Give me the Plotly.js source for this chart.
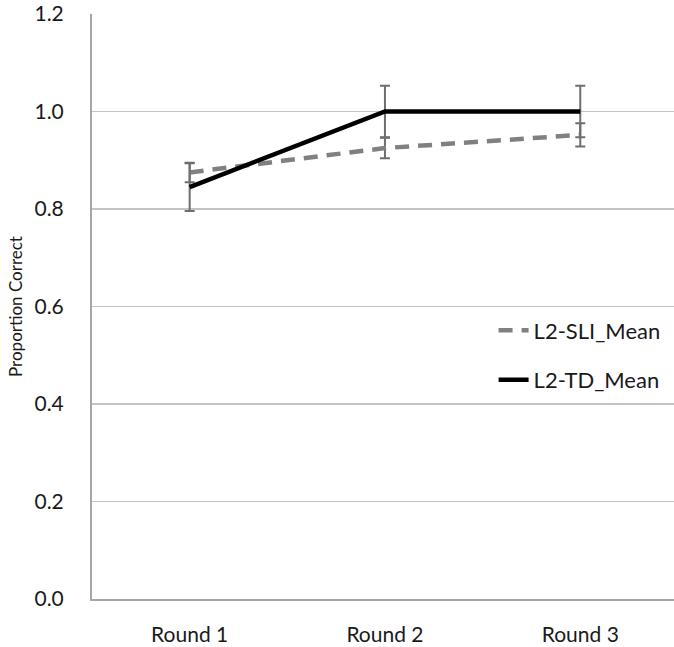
<!DOCTYPE html>
<html>
<head>
<meta charset="utf-8">
<script src="https://cdn.plot.ly/plotly-3.0.1.min.js"></script>
<style>html,body{margin:0;padding:0;background:#fff;}#chart{width:674px;height:647px;}</style>
</head>
<body>
<div id="chart"></div>
<script>
const categories = ["Round 1", "Round 2", "Round 3"];
const sliMean = [0.875, 0.925, 0.952];
const sliErr = [0.02, 0.021, 0.024];
const tdMean = [0.845, 1.0, 1.0];
const tdErr = [0.049, 0.053, 0.053];
const yTicks = [0, 0.2, 0.4, 0.6, 0.8, 1.0, 1.2];
const yTickText = ["0.0", "0.2", "0.4", "0.6", "0.8", "1.0", "1.2"];

const FONT = "Lato, 'Open Sans', sans-serif";

const traces = [
  {
    x: categories, y: sliMean, name: "L2-SLI_Mean", type: "scatter", mode: "lines",
    line: {color: "#808080", width: 4.5, dash: "14px,9px"},
    error_y: {type: "data", array: sliErr, visible: true, color: "#6e6e6e", thickness: 2, width: 5},
    legendgroup: "a"
  },
  {
    x: categories, y: tdMean, name: "L2-TD_Mean", type: "scatter", mode: "lines",
    line: {color: "#000000", width: 4.5},
    error_y: {type: "data", array: tdErr, visible: true, color: "#6e6e6e", thickness: 2, width: 5},
    legendgroup: "b"
  }
];

const layout = {
  width: 674, height: 647,
  margin: {l: 92, r: 0, t: 14, b: 48},
  paper_bgcolor: "#fff", plot_bgcolor: "#fff",
  font: {family: FONT, color: "#1a1a1a", size: 21},
  showlegend: true,
  legend: {x: 0.69, y: 0.495, xanchor: "left", yanchor: "top", traceorder: "grouped", tracegroupgap: 18,
           font: {size: 22, family: FONT, color: "#1a1a1a"}, bgcolor: "rgba(0,0,0,0)"},
  xaxis: {
    type: "category", range: [-0.5, 2.48], showgrid: false, zeroline: false,
    showline: true, linecolor: "#a6a6a6", linewidth: 2, ticks: "",
    tickfont: {size: 21, family: FONT, color: "#1a1a1a"}, ticklabelstandoff: 16
  },
  yaxis: {
    range: [0, 1.2], tickvals: yTicks, ticktext: yTickText, showgrid: true, gridcolor: "#c4c4c4", gridwidth: 1.5,
    zeroline: false, showline: true, linecolor: "#a6a6a6", linewidth: 2, ticks: "",
    tickfont: {size: 21, family: FONT, color: "#1a1a1a"}, ticklabelstandoff: 22,
    title: {text: "Proportion Correct", font: {size: 17, family: FONT, color: "#1a1a1a"}, standoff: 8}
  }
};

Plotly.newPlot("chart", traces, layout, {displayModeBar: false, staticPlot: true});
</script>
</body>
</html>
